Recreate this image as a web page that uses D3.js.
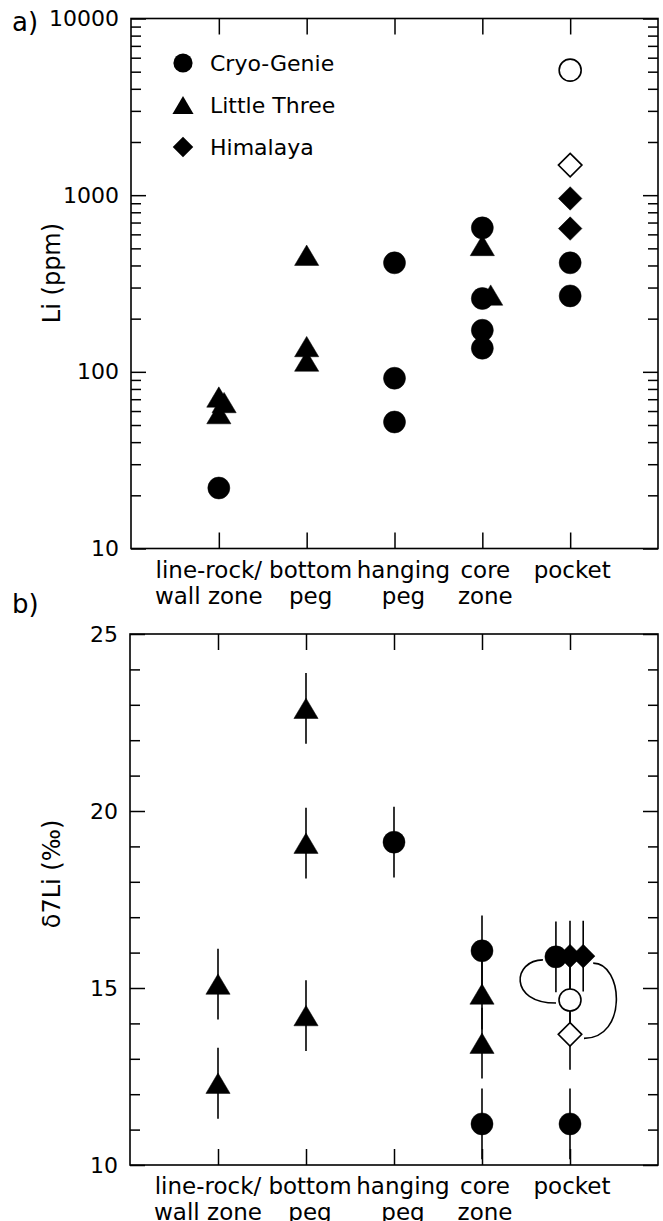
<!DOCTYPE html>
<html>
<head>
<meta charset="utf-8">
<script src="https://cdn.jsdelivr.net/npm/d3@7"></script>
<style>
  body { margin: 0; background: #fff; }
  svg text { font-family: "DejaVu Sans", sans-serif; fill: #000; }
  .axis line { stroke: #000; stroke-width: 1.5; }
  .axis path { display: none; }
</style>
</head>
<body>
<script>
var width = 663, height = 1221;

// categories along x (positions 1..5)
var categories = [["line-rock/", "wall zone"], ["bottom", "peg"], ["hanging", "peg"], ["core", "zone"], ["pocket"]];
var seriesNames = ["Cryo-Genie", "Little Three", "Himalaya"];
var seriesShapes = ["circle", "triangle", "diamond"];
var liMajorTicks = [10, 100, 1000, 10000];
var deltaMajorTicks = [10, 15, 20, 25];

// panel a) Li (ppm). cat = category, dx = small nudge (category units) to separate overlaps
var liCryoGenie = [
  { cat: 1, v: 22 },
  { cat: 3, v: 414 }, { cat: 3, v: 92 }, { cat: 3, v: 52 },
  { cat: 4, v: 653 }, { cat: 4, v: 260 }, { cat: 4, v: 172 }, { cat: 4, v: 136 },
  { cat: 5, v: 414 }, { cat: 5, v: 269 }, { cat: 5, v: 5100, open: true }
];
var liLittleThree = [
  { cat: 1, v: 72 }, { cat: 1, v: 67, dx: 0.06 }, { cat: 1, v: 58 },
  { cat: 2, v: 457 }, { cat: 2, v: 139 }, { cat: 2, v: 115 },
  { cat: 4, v: 519 }, { cat: 4, v: 272, dx: 0.095 }
];
var liHimalaya = [
  { cat: 5, v: 958 }, { cat: 5, v: 647 }, { cat: 5, v: 1480, open: true }
];

// panel b) d7Li (permil), err = +/- error
var dCryoGenie = [
  { cat: 3, v: 19.12, err: 1 },
  { cat: 4, v: 16.05, err: 1 }, { cat: 4, v: 11.16, err: 1 },
  { cat: 5, v: 15.88, err: 1, dx: -0.16 }, { cat: 5, v: 11.16, err: 1 },
  { cat: 5, v: 14.66, err: 1, open: true }
];
var dLittleThree = [
  { cat: 1, v: 15.11, err: 1 }, { cat: 1, v: 12.31, err: 1 },
  { cat: 2, v: 22.9, err: 1 }, { cat: 2, v: 19.09, err: 1 }, { cat: 2, v: 14.22, err: 1 },
  { cat: 4, v: 14.83, err: 1 }, { cat: 4, v: 13.44, err: 1 }
];
var dHimalaya = [
  { cat: 5, v: 15.9, err: 1 }, { cat: 5, v: 15.9, err: 1, dx: 0.15 },
  { cat: 5, v: 13.69, err: 1, open: true }
];

// the category labels are typeset as one run of words, not centred on ticks
var labelShift = [-10, 4, 9, 3, 2];

var svg = d3.select("body").append("svg")
  .attr("width", width)
  .attr("height", height);

function markerPath(shape, s) {
  var p = d3.path();
  if (shape === "circle") {
    p.moveTo(s, 0);
    p.arc(0, 0, s, 0, 2 * Math.PI);
  } else if (shape === "triangle") {
    var w = s * 2.2, h = s * 1.85;
    p.moveTo(0, -h / 2); p.lineTo(w / 2, h / 2); p.lineTo(-w / 2, h / 2); p.closePath();
  } else {
    var r = s * 1.07;
    p.moveTo(0, -r); p.lineTo(r, 0); p.lineTo(0, r); p.lineTo(-r, 0); p.closePath();
  }
  return p.toString();
}

function drawPanel(opt) {
  var g = svg.append("g");
  var x = d3.scaleLinear().domain([0, 6]).range([opt.left, opt.right]);
  var y = opt.y;

  // frame
  g.append("rect")
    .attr("x", opt.left).attr("y", opt.top)
    .attr("width", opt.right - opt.left).attr("height", opt.bottom - opt.top)
    .attr("fill", "none").attr("stroke", "#000").attr("stroke-width", 1.6);

  // x ticks, inward top and bottom
  var cats = d3.range(1, 6);
  g.append("g").attr("class", "axis")
    .attr("transform", "translate(0," + opt.top + ")")
    .call(d3.axisTop(x).tickValues(cats).tickSizeInner(-16).tickSizeOuter(0).tickFormat(""));
  g.append("g").attr("class", "axis")
    .attr("transform", "translate(0," + opt.bottom + ")")
    .call(d3.axisBottom(x).tickValues(cats).tickSizeInner(-16).tickSizeOuter(0).tickFormat(""));

  // y ticks, inward left and right
  g.append("g").attr("class", "axis")
    .attr("transform", "translate(" + opt.left + ",0)")
    .call(d3.axisLeft(y).tickValues(opt.minor).tickSizeInner(-10).tickSizeOuter(0).tickFormat(""));
  g.append("g").attr("class", "axis")
    .attr("transform", "translate(" + opt.right + ",0)")
    .call(d3.axisRight(y).tickValues(opt.minor).tickSizeInner(-10).tickSizeOuter(0).tickFormat(""));
  var yl = g.append("g").attr("class", "axis")
    .attr("transform", "translate(" + opt.left + ",0)")
    .call(d3.axisLeft(y).tickValues(opt.major).tickSizeInner(-15).tickSizeOuter(0).tickPadding(12).tickFormat(d3.format("d")));
  yl.selectAll("text").style("font-size", "22px");
  g.append("g").attr("class", "axis")
    .attr("transform", "translate(" + opt.right + ",0)")
    .call(d3.axisRight(y).tickValues(opt.major).tickSizeInner(-15).tickSizeOuter(0).tickFormat(""));

  // category labels
  var lab = g.append("g").selectAll("text")
    .data(categories)
    .join("text")
    .attr("text-anchor", "middle")
    .style("font-size", "23px")
    .attr("transform", function (d, i) { return "translate(" + (x(i + 1) + labelShift[i]) + "," + (opt.bottom + 29) + ")"; });
  lab.selectAll("tspan")
    .data(function (d) { return d; })
    .join("tspan")
    .attr("x", 0)
    .attr("dy", function (d, i) { return i ? 26 : 0; })
    .text(function (d) { return d; });

  // y title
  g.append("text")
    .attr("transform", "translate(60," + opt.titleY + ") rotate(-90)")
    .attr("text-anchor", "middle")
    .style("font-size", "24px")
    .text(opt.title);

  // panel letter
  g.append("text")
    .attr("x", 12).attr("y", opt.letterY)
    .style("font-size", "26px")
    .text(opt.letter);

  var px = function (d) { return x(d.cat + (d.dx || 0)); };

  // error bars
  if (opt.errors) {
    opt.series.forEach(function (s) {
      g.append("g").selectAll("line")
        .data(s.data)
        .join("line")
        .attr("x1", px).attr("x2", px)
        .attr("y1", function (d) { return y(d.v + d.err); })
        .attr("y2", function (d) { return y(d.v - d.err); })
        .attr("stroke", "#000").attr("stroke-width", 1.6);
    });
  }

  // markers
  opt.series.forEach(function (s) {
    g.append("g").selectAll("path")
      .data(s.data)
      .join("path")
      .attr("d", markerPath(s.shape, 11))
      .attr("transform", function (d) { return "translate(" + px(d) + "," + y(d.v) + ")"; })
      .attr("fill", function (d) { return d.open ? "#fff" : "#000"; })
      .attr("stroke", "#000")
      .attr("stroke-width", function (d) { return d.open ? 1.6 : 0.5; });
  });

  return { g: g, x: x, y: y, px: px };
}

// panel a
var yLi = d3.scaleLog().domain([10, 10000]).range([548.5, 18.5]);
var liMinor = yLi.ticks().filter(function (v) { return liMajorTicks.indexOf(v) < 0; });
var pa = drawPanel({
  left: 131, right: 658, top: 18.5, bottom: 548.5,
  y: yLi, major: liMajorTicks, minor: liMinor,
  title: "Li (ppm)", titleY: 273, letter: "a)", letterY: 31,
  series: [
    { data: liCryoGenie, shape: "circle" },
    { data: liLittleThree, shape: "triangle" },
    { data: liHimalaya, shape: "diamond" }
  ]
});

// legend
var legend = pa.g.append("g").selectAll("g")
  .data(seriesNames)
  .join("g")
  .attr("transform", function (d, i) { return "translate(183," + (63 + i * 42) + ")"; });
legend.append("path")
  .attr("d", function (d, i) { return markerPath(seriesShapes[i], 9.6); })
  .attr("fill", "#000");
legend.append("text")
  .attr("x", 27).attr("y", 8)
  .style("font-size", "22px")
  .text(function (d) { return d; });

// panel b
var yD = d3.scaleLinear().domain([10, 25]).range([1165, 634]);
var dMinor = d3.range(10, 26).filter(function (v) { return deltaMajorTicks.indexOf(v) < 0; });
var pb = drawPanel({
  left: 130, right: 658, top: 634, bottom: 1165,
  y: yD, major: deltaMajorTicks, minor: dMinor,
  title: "\u03b47Li (\u2030)", titleY: 874, letter: "b)", letterY: 613,
  errors: true,
  series: [
    { data: dCryoGenie, shape: "circle" },
    { data: dLittleThree, shape: "triangle" },
    { data: dHimalaya, shape: "diamond" }
  ]
});

// brackets linking filled and open pocket points
var fc = dCryoGenie[3], oc = dCryoGenie[5], fd = dHimalaya[1], od = dHimalaya[2];
var a1 = [pb.px(fc) - 13, pb.y(fc.v) + 3], a2 = [pb.px(oc) - 14, pb.y(oc.v) + 3];
var b1 = [pb.px(fd) + 10, pb.y(fd.v) + 7], b2 = [pb.px(od) + 14, pb.y(od.v) + 4];
var left = d3.path();
left.moveTo(a1[0], a1[1]);
left.bezierCurveTo(a1[0] - 30, a1[1], a2[0] - 48, a2[1], a2[0], a2[1]);
var right = d3.path();
right.moveTo(b1[0], b1[1]);
right.bezierCurveTo(b1[0] + 30, b1[1], b2[0] + 44, b2[1], b2[0], b2[1]);
pb.g.selectAll(".bracket")
  .data([left.toString(), right.toString()])
  .join("path")
  .attr("class", "bracket")
  .attr("d", function (d) { return d; })
  .attr("fill", "none").attr("stroke", "#000").attr("stroke-width", 1.6);
</script>
</body>
</html>
